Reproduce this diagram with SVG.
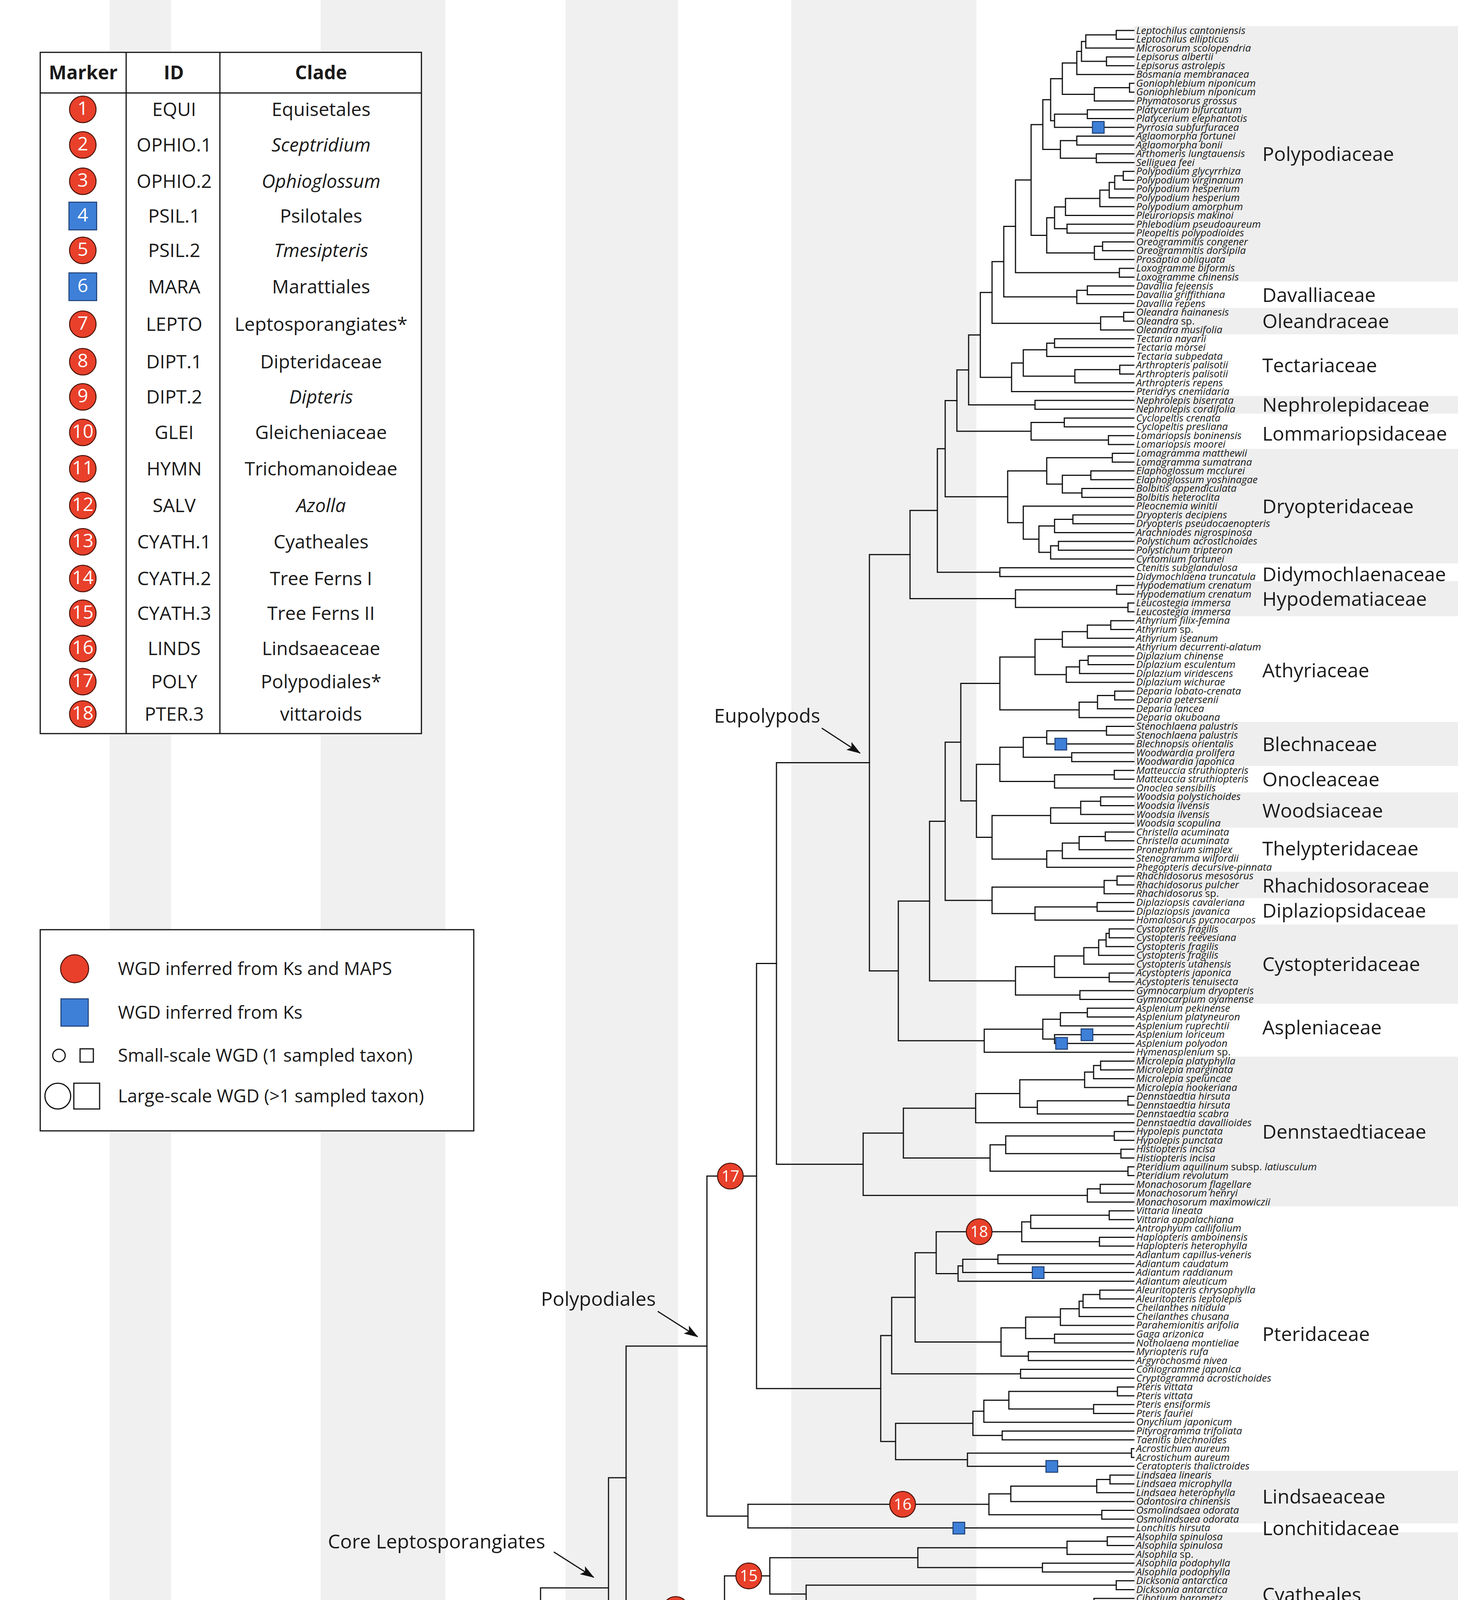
<svg xmlns="http://www.w3.org/2000/svg" width="3733" height="5780" viewBox="0 0 3733 5780">
<defs>
<marker id="ah" markerUnits="userSpaceOnUse" markerWidth="36" markerHeight="24" refX="34" refY="12" orient="auto"><path d="M0,0L36,12L0,24L8,12Z" fill="#111"/></marker>
</defs>
<style>
text{font-family:'Open Sans','Noto Sans','DejaVu Sans',sans-serif;fill:#1a1a1a}
.lf text{font-style:italic;font-size:26px}
.n{font-style:normal}
.cl text{font-size:50px}
.br{fill:none;stroke:#111;stroke-width:3;stroke-linecap:square;stroke-linejoin:miter}
.rc{fill:#E8402A;stroke:#4a1208;stroke-width:2.5}
.bs{fill:#3E7FD8;stroke:#1c3f73;stroke-width:2.5}
.mn{fill:#fff;font-size:40px;text-anchor:middle}
.tb{fill:#F0F0F0}
.cb{fill:#EEEEEE}
.tt text{font-size:48px;text-anchor:middle}
.hd{font-weight:bold}
.it{font-style:italic}
.lg text{font-size:46px}
.an{font-size:50px}
.ar{stroke:#111;stroke-width:3;marker-end:url(#ah)}
.ts text{font-size:48px;text-anchor:middle}
.tk text{font-size:38px;text-anchor:middle}
.ln{stroke:#111;stroke-width:3;fill:none}
</style>
<rect width="3733" height="5780" fill="#fff"/>
<g id="time-bands">
<rect class="tb" x="281" y="0" width="157" height="5585"/>
<rect class="tb" x="821" y="0" width="319" height="5585"/>
<rect class="tb" x="1448" y="0" width="288" height="5585"/>
<rect class="tb" x="2026" y="0" width="474" height="5585"/>
</g>
<g id="clade-bands">
<rect class="cb" x="2904" y="66.7" width="829" height="654"/>
<rect class="cb" x="2904" y="788.3" width="829" height="67.7"/>
<rect class="cb" x="2904" y="1013.8" width="829" height="45.2"/>
<rect class="cb" x="2904" y="1149" width="829" height="293.3"/>
<rect class="cb" x="2904" y="1487.4" width="829" height="90.2"/>
<rect class="cb" x="2904" y="1848" width="829" height="113"/>
<rect class="cb" x="2904" y="2028.6" width="829" height="90.2"/>
<rect class="cb" x="2904" y="2231.5" width="829" height="67.7"/>
<rect class="cb" x="2904" y="2366.8" width="829" height="203"/>
<rect class="cb" x="2904" y="2705" width="829" height="383.4"/>
<rect class="cb" x="2904" y="3765" width="829" height="135"/>
<rect class="cb" x="2904" y="3922.8" width="829" height="315.7"/>
<rect class="cb" x="2904" y="4418.9" width="829" height="157.9"/>
<rect class="cb" x="2904" y="4734.6" width="829" height="203"/>
<rect class="cb" x="2904" y="5027.7" width="829" height="112.8"/>
<rect class="cb" x="2904" y="5253.2" width="829" height="112.8"/>
</g>
<g id="connectors">
<path class="br" d="M2903 78H2858V100.6H2903M2858 89.3H2780V123.1H2903M2903 145.7H2833V168.2H2903M2780 106.2H2769V156.9H2833M2769 131.6H2757V190.8H2903M2903 213.3H2892V235.9H2903M2892 224.6H2802V258.4H2903M2757 161.2H2720V241.5H2802M2903 281H2784V303.5H2903M2784 292.2H2700V326.1H2903M2720 201.4H2690V309.1H2700M2903 348.6H2757V371.2H2903M2903 393.7H2807V416.3H2903M2757 359.9H2715V405H2807M2690 255.3H2670V382.5H2715M2903 438.8H2876V461.4H2903M2876 450.1H2854V483.9H2903M2854 467H2840V506.5H2903M2840 486.7H2816V529H2903M2816 507.9H2728V551.6H2903M2903 574.1H2732V596.7H2903M2728 529.7H2700V585.4H2732M2903 619.2H2823V641.8H2903M2823 630.5H2802V664.3H2903M2700 557.5H2680V647.4H2802M2670 318.9H2640V602.5H2680M2903 686.9H2866V709.4H2903M2640 460.7H2600V698.1H2866"/>
<path class="br" d="M2903 732H2784V754.5H2903M2784 743.2H2757V777.1H2903M2600 579.4H2570V760.1H2757M2903 799.6H2877V822.2H2903M2877 810.9H2818V844.7H2903M2570 669.8H2540V827.8H2818M2903 867.3H2700V889.8H2903M2700 878.5H2680V912.4H2903M2903 934.9H2867V957.5H2903M2867 946.2H2752V980H2903M2680 895.4H2620V963.1H2752M2620 929.3H2590V1002.6H2903M2540 748.8H2510V965.9H2590M2903 1025.1H2650V1047.7H2903M2510 857.4H2480V1036.4H2650M2903 1070.2H2725V1092.8H2903M2903 1115.3H2838V1137.9H2903M2725 1081.5H2640V1126.6H2838M2480 946.9H2450V1104H2640"/>
<path class="br" d="M2903 1160.4H2848V1183H2903M2903 1205.5H2793V1228.1H2903M2903 1250.6H2770V1273.2H2903M2793 1216.8H2720V1261.9H2770M2848 1171.7H2680V1239.3H2720M2903 1318.3H2747V1340.8H2903M2747 1329.5H2700V1363.4H2903M2903 1385.9H2710V1408.5H2903M2710 1397.2H2690V1431H2903M2700 1346.4H2660V1414.1H2690M2903 1295.7H2620V1380.3H2660M2680 1205.5H2580V1338H2620M2450 1025.5H2420V1271.8H2580M2903 1453.6H2560V1476.1H2903M2420 1148.7H2400V1464.9H2560M2903 1498.7H2859V1521.2H2903M2903 1543.8H2888V1566.3H2903M2859 1510H2600V1555H2888M2400 1306.8H2330V1532.5H2600"/>
<path class="br" d="M2903 1588.9H2844V1611.4H2903M2844 1600.2H2784V1634H2903M2784 1617.1H2720V1656.5H2903M2903 1679.1H2786V1701.6H2903M2786 1690.4H2764V1724.2H2903M2764 1707.3H2730V1746.7H2903M2720 1636.8H2650V1727H2730M2903 1769.3H2854V1791.8H2903M2854 1780.6H2810V1814.4H2903M2810 1797.5H2763V1836.9H2903M2650 1681.9H2560V1817.2H2763M2903 1859.5H2833V1882H2903M2833 1870.8H2680V1904.6H2903M2903 1927.1H2744V1949.7H2903M2680 1887.7H2620V1938.4H2744M2903 1972.2H2853V1994.8H2903M2853 1983.5H2700V2017.3H2903M2620 1913.1H2560V2000.4H2700M2903 2039.9H2818V2062.4H2903M2818 2051.2H2767V2085H2903M2767 2068.1H2690V2107.5H2903M2903 2130.1H2830V2152.6H2903M2830 2141.4H2763V2175.2H2903M2763 2158.3H2720V2197.7H2903M2720 2178H2680V2220.3H2903M2690 2087.8H2540V2199.2H2680M2560 1956.8H2500V2143.5H2540M2560 1749.6H2460V2050.2H2500M2903 2242.8H2860V2265.4H2903M2860 2254.1H2827V2287.9H2903M2903 2310.5H2809V2333H2903M2809 2321.8H2650V2355.6H2903M2827 2271H2540V2338.7H2650M2460 1899.9H2420V2304.9H2540M2903 2378.1H2840V2400.7H2903M2840 2389.4H2832V2423.2H2903M2832 2406.3H2813V2445.8H2903M2813 2426.1H2775V2468.3H2903M2903 2490.9H2840V2513.4H2903M2775 2447.2H2700V2502.2H2840M2903 2536H2765V2558.5H2903M2700 2474.7H2600V2547.3H2765M2420 2102.4H2380V2511H2600M2903 2581.1H2784V2603.6H2903M2784 2592.4H2715V2626.2H2903M2903 2648.7H2700V2671.3H2903M2715 2609.3H2670V2660H2700M2670 2634.7H2520V2693.8H2903M2380 2306.7H2300V2664.3H2520M2330 1419.7H2226V2485.5H2300"/>
<path class="br" d="M2903 2716.4H2818V2738.9H2903M2818 2727.7H2800V2761.5H2903M2800 2744.6H2777V2784H2903M2903 2806.6H2888V2829.1H2903M2888 2817.9H2656V2851.7H2903M2777 2764.3H2611V2834.8H2656M2611 2799.6H2498V2874.2H2903M2903 2896.8H2853V2919.3H2903M2903 2941.9H2870V2964.4H2903M2853 2908.1H2575V2953.2H2870M2903 2987H2888V3009.5H2903M2575 2930.7H2535V2998.3H2888M2498 2836.9H2313V2964.5H2535M2903 3032.1H2817V3054.6H2903M2817 3043.4H2784V3077.2H2903M2313 2900.7H2210V3060.3H2784M2226 1952.6H1988V2980.5H2210"/>
<path class="br" d="M2903 3099.7H2840V3122.3H2903M2840 3111H2639V3144.8H2903M2903 3167.4H2815V3189.9H2903M2639 3127.9H2616V3178.7H2815M2903 3212.5H2555V3235H2903M2555 3223.8H2465V3257.6H2903M2465 3240.7H2453V3280.1H2903M2616 3153.3H2397V3260.4H2453M2903 3302.7H2816V3325.2H2903M2816 3314H2773V3347.8H2903M2773 3330.9H2763V3370.3H2903M2763 3350.6H2715V3392.9H2903M2903 3415.4H2700V3438H2903M2715 3371.8H2626V3426.7H2700M2903 3460.5H2633V3483.1H2903M2626 3399.3H2563V3471.8H2633M2397 3206.9H2343V3435.6H2563M2903 3505.6H2613V3528.2H2903M2343 3321.3H2283V3516.9H2613M2903 3550.7H2861V3573.3H2903M2903 3595.8H2800V3618.4H2903M2861 3562H2583V3607.1H2800M2583 3584.6H2519V3640.9H2903M2903 3663.5H2566V3686H2903M2519 3612.8H2491V3674.8H2566M2903 3708.6H2897V3731.1H2903M2897 3719.9H2477V3753.7H2903M2491 3643.8H2293V3736.8H2477M2283 3419.1H2255V3690.3H2293M1988 2466.6H1937V3554.7H2255"/>
<path class="br" d="M2903 3776.2H2842V3798.8H2903M2842 3787.5H2808V3821.3H2903M2808 3804.4H2588V3843.9H2903M2903 3866.4H2821V3889H2903M2588 3824.2H2532V3877.7H2821M2532 3851H1915V3911.5H2903M1937 3010.7H1810V3881.3H1915"/>
<path class="br" d="M2903 3934.1H2835V3956.6H2903M2835 3945.4H2732V3979.2H2903M2903 4001.7H2669V4024.3H2903M2732 3962.3H2350V4013H2669M2903 4046.8H2858V4069.4H2903M2903 4091.9H2801V4114.5H2903M2858 4058.1H2064V4103.2H2801M2350 3987.7H1971V4080.7H2064M2903 4137H2721V4159.6H2903M2721 4148.3H2624V4182.1H2903M2624 4165.2H2395V4204.7H2903M2395 4185H1938V4227.2H2903M1971 4034.2H1855V4206.1H1938M1810 3446H1603V4120.2H1855"/>
<path class="br" d="M2903 4249.8H2753V4272.3H2903M2753 4261.1H2411V4294.9H2903M2903 4317.4H2880V4340H2903M2411 4278H2111V4328.7H2880M2903 4362.5H2887V4385.1H2903M2887 4373.8H2328V4407.6H2903M2111 4303.4H1938V4390.7H2328M1603 3783.1H1558V4347.1H1938M2903 4430.2H2745V4452.7H2903M2903 4475.3H2568V4497.8H2903M2745 4441.5H2204V4486.6H2568M2903 4520.4H2868V4542.9H2903M2868 4531.7H2775V4565.5H2903M2204 4464.1H1875V4548.6H2775M1558 4065.1H1384V4506.4H1875"/>
<path class="br" d="M2903 4588H2263V4610.6H2903M2903 4633.1H2367V4655.7H2903M2263 4599.3H2218V4644.4H2367M2903 4678.2H2669V4700.8H2903M2669 4689.5H2487V4723.3H2903M2218 4621.9H2058V4706.4H2487M2903 4745.9H2600V4768.4H2903M2903 4791H2883V4813.5H2903M2600 4757.2H2355V4802.3H2883M2355 4779.8H2272V4836.1H2903M2058 4664.2H1306V4808H2272M2903 4858.6H2823V4881.2H2903M2903 4903.7H2502V4926.3H2903M2823 4869.9H2364V4915H2502M1306 4736.1H1286V4892.5H2364M1384 4285.8H1257V4814.3H1286M2903 4948.8H2843V4971.4H2903M2903 4993.9H2851V5016.5H2903M2843 4960.1H2592V5005.2H2851M1257 4550.1H1127V4982.7H2592"/>
<path class="br" d="M2903 5039H2857V5061.6H2903M2857 5050.3H2572V5084.1H2903M2572 5067.2H2510V5106.7H2903M2510 5087H2415V5129.2H2903M1127 4766.4H992V5108.1H2415M2903 5151.8H2837V5174.3H2903M2837 5163.1H2802V5196.9H2903M2903 5219.4H2767V5242H2903M2802 5180H2466V5230.7H2767M2903 5264.5H2851V5287.1H2903M2851 5275.8H2392V5309.6H2903M2903 5332.2H2803V5354.7H2903M2392 5292.7H1817V5343.5H2803M2466 5205.4H1336V5318.1H1817M992 4937.3H945V5261.8H1336M2903 5377.3H2827V5399.8H2903M2903 5422.4H2847V5444.9H2903M2827 5388.6H2675V5433.7H2847M945 5099.6H860V5411.2H2675M2903 5467.5H1791V5490H2903M1791 5478.8H1328V5512.6H2903M860 5255.4H698V5495.7H1328M698 5375.6H499V5535.1H2903M499 5455.4H38V5557.7H2903M9 5506.6H38"/>
</g>
<g id="annotations">
<text class="an" x="2100" y="1850" text-anchor="end">Eupolypods</text>
<line class="ar" x1="2104" y1="1864" x2="2202" y2="1928"/>
<text class="an" x="1679" y="3343" text-anchor="end">Polypodiales</text>
<line class="ar" x1="1684" y1="3357" x2="1786" y2="3422"/>
<text class="an" x="1396" y="3964" text-anchor="end">Core Leptosporangiates</text>
<line class="ar" x1="1418" y1="3973" x2="1520" y2="4038"/>
<text class="an" x="1003" y="4652" text-anchor="end">Leptosporangiates</text>
<line class="ar" x1="1020" y1="4655" x2="1109" y2="4736"/>
</g>
<g id="small-wgd">
<rect class="bs" x="2797" y="311" width="30" height="30"/>
<rect class="bs" x="2701" y="1890" width="30" height="30"/>
<rect class="bs" x="2768" y="2634" width="30" height="30"/>
<rect class="bs" x="2703" y="2656" width="30" height="30"/>
<rect class="bs" x="2643" y="3243" width="30" height="30"/>
<rect class="bs" x="2678" y="3739" width="30" height="30"/>
<rect class="bs" x="2440" y="3897" width="30" height="30"/>
<rect class="bs" x="2717" y="4483" width="30" height="30"/>
<rect class="bs" x="2535" y="5295" width="30" height="30"/>
</g>
<g id="wgd-markers">
<g id="m1"><circle class="rc" cx="1869" cy="5411.2" r="33"/><text class="mn" x="1869" y="5425">1</text></g>
<g id="m2"><circle class="rc" cx="2311" cy="5343.5" r="33"/><text class="mn" x="2311" y="5357">2</text></g>
<g id="m3"><circle class="rc" cx="2633" cy="5275.8" r="33"/><text class="mn" x="2633" y="5290">3</text></g>
<g id="m4"><rect class="bs" x="1914.5" y="5169.9" width="71" height="71"/><text class="mn" x="1950" y="5219">4</text></g>
<g id="m5"><circle class="rc" cx="2722" cy="5230.7" r="33"/><text class="mn" x="2722" y="5245">5</text></g>
<g id="m6"><rect class="bs" x="1804.5" y="5072.6" width="71" height="71"/><text class="mn" x="1840" y="5122">6</text></g>
<g id="m7"><circle class="rc" cx="1194" cy="4550.1" r="33"/><text class="mn" x="1194" y="4564">7</text></g>
<g id="m8"><circle class="rc" cx="1760" cy="4892.5" r="33"/><text class="mn" x="1760" y="4907">8</text></g>
<g id="m9"><circle class="rc" cx="2437" cy="4915" r="33"/><text class="mn" x="2437" y="4929">9</text></g>
<g id="m10"><circle class="rc" cx="1963" cy="4808" r="33"/><text class="mn" x="1963" y="4822">10</text></g>
<g id="m11"><circle class="rc" cx="2140" cy="4621.9" r="33"/><text class="mn" x="2140" y="4636">11</text></g>
<g id="m12"><circle class="rc" cx="2274" cy="4278" r="33"/><text class="mn" x="2274" y="4292">12</text></g>
<g id="m13"><circle class="rc" cx="1730" cy="4120.2" r="33"/><text class="mn" x="1730" y="4134">13</text></g>
<g id="m14"><circle class="rc" cx="2179" cy="4185" r="33"/><text class="mn" x="2179" y="4199">14</text></g>
<g id="m15"><circle class="rc" cx="1917" cy="4034.2" r="33"/><text class="mn" x="1917" y="4048">15</text></g>
<g id="m16"><circle class="rc" cx="2311" cy="3851" r="33"/><text class="mn" x="2311" y="3865">16</text></g>
<g id="m17"><circle class="rc" cx="1870" cy="3010.7" r="33"/><text class="mn" x="1870" y="3025">17</text></g>
<g id="m18"><circle class="rc" cx="2507" cy="3153.3" r="33"/><text class="mn" x="2507" y="3167">18</text></g>
</g>
<g id="leaves" class="lf" transform="translate(2909 8.6)">
<text y="78">Leptochilus cantoniensis</text>
<text y="100.6">Leptochilus ellipticus</text>
<text y="123.1">Microsorum scolopendria</text>
<text y="145.7">Lepisorus albertii</text>
<text y="168.2">Lepisorus astrolepis</text>
<text y="190.8">Bosmania membranacea</text>
<text y="213.3">Goniophlebium niponicum</text>
<text y="235.9">Goniophlebium niponicum</text>
<text y="258.4">Phymatosorus grossus</text>
<text y="281">Platycerium bifurcatum</text>
<text y="303.5">Platycerium elephantotis</text>
<text y="326.1">Pyrrosia subfurfuracea</text>
<text y="348.6">Aglaomorpha fortunei</text>
<text y="371.2">Aglaomorpha bonii</text>
<text y="393.7">Arthomeris lungtauensis</text>
<text y="416.3">Selliguea feei</text>
<text y="438.8">Polypodium glycyrrhiza</text>
<text y="461.4">Polypodium virginanum</text>
<text y="483.9">Polypodium hesperium</text>
<text y="506.5">Polypodium hesperium</text>
<text y="529">Polypodium amorphum</text>
<text y="551.6">Pleuroriopsis makinoi</text>
<text y="574.1">Phlebodium pseudoaureum</text>
<text y="596.7">Pleopeltis polypodioides</text>
<text y="619.2">Oreogrammitis congener</text>
<text y="641.8">Oreogrammitis dorsipila</text>
<text y="664.3">Prosaptia obliquata</text>
<text y="686.9">Loxogramme biformis</text>
<text y="709.4">Loxogramme chinensis</text>
<text y="732">Davallia fejeensis</text>
<text y="754.5">Davallia griffithiana</text>
<text y="777.1">Davallia repens</text>
<text y="799.6">Oleandra hainanesis</text>
<text y="822.2">Oleandra <tspan class="n">sp.</tspan></text>
<text y="844.7">Oleandra musifolia</text>
<text y="867.3">Tectaria nayarii</text>
<text y="889.8">Tectaria morsei</text>
<text y="912.4">Tectaria subpedata</text>
<text y="934.9">Arthropteris palisotii</text>
<text y="957.5">Arthropteris palisotii</text>
<text y="980">Arthropteris repens</text>
<text y="1002.6">Pteridrys cnemidaria</text>
<text y="1025.1">Nephrolepis biserrata</text>
<text y="1047.7">Nephrolepis cordifolia</text>
<text y="1070.2">Cyclopeltis crenata</text>
<text y="1092.8">Cyclopeltis presliana</text>
<text y="1115.3">Lomariopsis boninensis</text>
<text y="1137.9">Lomariopsis moorei</text>
<text y="1160.4">Lomagramma matthewii</text>
<text y="1183">Lomagramma sumatrana</text>
<text y="1205.5">Elaphoglossum mcclurei</text>
<text y="1228.1">Elaphoglossum yoshinagae</text>
<text y="1250.6">Bolbitis appendiculata</text>
<text y="1273.2">Bolbitis heteroclita</text>
<text y="1295.7">Pleocnemia winitii</text>
<text y="1318.3">Dryopteris decipiens</text>
<text y="1340.8">Dryopteris pseudocaenopteris</text>
<text y="1363.4">Arachniodes nigrospinosa</text>
<text y="1385.9">Polystichum acrostichoides</text>
<text y="1408.5">Polystichum tripteron</text>
<text y="1431">Cyrtomium fortunei</text>
<text y="1453.6">Ctenitis subglandulosa</text>
<text y="1476.1">Didymochlaena truncatula</text>
<text y="1498.7">Hypodematium crenatum</text>
<text y="1521.2">Hypodematium crenatum</text>
<text y="1543.8">Leucostegia immersa</text>
<text y="1566.3">Leucostegia immersa</text>
<text y="1588.9">Athyrium filix-femina</text>
<text y="1611.4">Athyrium <tspan class="n">sp.</tspan></text>
<text y="1634">Athyrium iseanum</text>
<text y="1656.5">Athyrium decurrenti-alatum</text>
<text y="1679.1">Diplazium chinense</text>
<text y="1701.6">Diplazium esculentum</text>
<text y="1724.2">Diplazium viridescens</text>
<text y="1746.7">Diplazium wichurae</text>
<text y="1769.3">Deparia lobato-crenata</text>
<text y="1791.8">Deparia petersenii</text>
<text y="1814.4">Deparia lancea</text>
<text y="1836.9">Deparia okuboana</text>
<text y="1859.5">Stenochlaena palustris</text>
<text y="1882">Stenochlaena palustris</text>
<text y="1904.6">Blechnopsis orientalis</text>
<text y="1927.1">Woodwardia prolifera</text>
<text y="1949.7">Woodwardia japonica</text>
<text y="1972.2">Matteuccia struthiopteris</text>
<text y="1994.8">Matteuccia struthiopteris</text>
<text y="2017.3">Onoclea sensibilis</text>
<text y="2039.9">Woodsia polystichoides</text>
<text y="2062.4">Woodsia ilvensis</text>
<text y="2085">Woodsia ilvensis</text>
<text y="2107.5">Woodsia scopulina</text>
<text y="2130.1">Christella acuminata</text>
<text y="2152.6">Christella acuminata</text>
<text y="2175.2">Pronephrium simplex</text>
<text y="2197.7">Stenogramma wilfordii</text>
<text y="2220.3">Phegopteris decursive-pinnata</text>
<text y="2242.8">Rhachidosorus mesosorus</text>
<text y="2265.4">Rhachidosorus pulcher</text>
<text y="2287.9">Rhachidosorus <tspan class="n">sp.</tspan></text>
<text y="2310.5">Diplaziopsis cavaleriana</text>
<text y="2333">Diplaziopsis javanica</text>
<text y="2355.6">Homalosorus pycnocarpos</text>
<text y="2378.1">Cystopteris fragilis</text>
<text y="2400.7">Cystopteris reevesiana</text>
<text y="2423.2">Cystopteris fragilis</text>
<text y="2445.8">Cystopteris fragilis</text>
<text y="2468.3">Cystopteris utahensis</text>
<text y="2490.9">Acystopteris japonica</text>
<text y="2513.4">Acystopteris tenuisecta</text>
<text y="2536">Gymnocarpium dryopteris</text>
<text y="2558.5">Gymnocarpium oyamense</text>
<text y="2581.1">Asplenium pekinense</text>
<text y="2603.6">Asplenium platyneuron</text>
<text y="2626.2">Asplenium ruprechtii</text>
<text y="2648.7">Asplenium loriceum</text>
<text y="2671.3">Asplenium polyodon</text>
<text y="2693.8">Hymenasplenium <tspan class="n">sp.</tspan></text>
<text y="2716.4">Microlepia platyphylla</text>
<text y="2738.9">Microlepia marginata</text>
<text y="2761.5">Microlepia speluncae</text>
<text y="2784">Microlepia hookeriana</text>
<text y="2806.6">Dennstaedtia hirsuta</text>
<text y="2829.1">Dennstaedtia hirsuta</text>
<text y="2851.7">Dennstaedtia scabra</text>
<text y="2874.2">Dennstaedtia davallioides</text>
<text y="2896.8">Hypolepis punctata</text>
<text y="2919.3">Hypolepis punctata</text>
<text y="2941.9">Histiopteris incisa</text>
<text y="2964.4">Histiopteris incisa</text>
<text y="2987">Pteridium aquilinum <tspan class="n">subsp.</tspan> latiusculum</text>
<text y="3009.5">Pteridium revolutum</text>
<text y="3032.1">Monachosorum flagellare</text>
<text y="3054.6">Monachosorum henryi</text>
<text y="3077.2">Monachosorum maximowiczii</text>
<text y="3099.7">Vittaria lineata</text>
<text y="3122.3">Vittaria appalachiana</text>
<text y="3144.8">Antrophyum callifolium</text>
<text y="3167.4">Haplopteris amboinensis</text>
<text y="3189.9">Haplopteris heterophylla</text>
<text y="3212.5">Adiantum capillus-veneris</text>
<text y="3235">Adiantum caudatum</text>
<text y="3257.6">Adiantum raddianum</text>
<text y="3280.1">Adiantum aleuticum</text>
<text y="3302.7">Aleuritopteris chrysophylla</text>
<text y="3325.2">Aleuritopteris leptolepis</text>
<text y="3347.8">Cheilanthes nitidula</text>
<text y="3370.3">Cheilanthes chusana</text>
<text y="3392.9">Parahemionitis arifolia</text>
<text y="3415.4">Gaga arizonica</text>
<text y="3438">Notholaena montieliae</text>
<text y="3460.5">Myriopteris rufa</text>
<text y="3483.1">Argyrochosma nivea</text>
<text y="3505.6">Coniogramme japonica</text>
<text y="3528.2">Cryptogramma acrostichoides</text>
<text y="3550.7">Pteris vittata</text>
<text y="3573.3">Pteris vittata</text>
<text y="3595.8">Pteris ensiformis</text>
<text y="3618.4">Pteris fauriei</text>
<text y="3640.9">Onychium japonicum</text>
<text y="3663.5">Pityrogramma trifoliata</text>
<text y="3686">Taenitis blechnoides</text>
<text y="3708.6">Acrostichum aureum</text>
<text y="3731.1">Acrostichum aureum</text>
<text y="3753.7">Ceratopteris thalictroides</text>
<text y="3776.2">Lindsaea linearis</text>
<text y="3798.8">Lindsaea microphylla</text>
<text y="3821.3">Lindsaea heterophylla</text>
<text y="3843.9">Odontosira chinensis</text>
<text y="3866.4">Osmolindsaea odorata</text>
<text y="3889">Osmolindsaea odorata</text>
<text y="3911.5">Lonchitis hirsuta</text>
<text y="3934.1">Alsophila spinulosa</text>
<text y="3956.6">Alsophila spinulosa</text>
<text y="3979.2">Alsophila <tspan class="n">sp.</tspan></text>
<text y="4001.7">Alsophila podophylla</text>
<text y="4024.3">Alsophila podophylla</text>
<text y="4046.8">Dicksonia antarctica</text>
<text y="4069.4">Dicksonia antarctica</text>
<text y="4091.9">Cibotium barometz</text>
<text y="4114.5">Cibotium barometz</text>
<text y="4137">Plagiogyria stenoptera</text>
<text y="4159.6">Plagiogyria subadnata</text>
<text y="4182.1">Plagiogyria japonica</text>
<text y="4204.7">Culcita macrocarpa</text>
<text y="4227.2">Thyrsopteris elegans</text>
<text y="4249.8">Azolla pinnata</text>
<text y="4272.3">Azolla pinnata</text>
<text y="4294.9">Azolla caroliniana</text>
<text y="4317.4">Salvinia natans</text>
<text y="4340">Salvinia natans</text>
<text y="4362.5">Marsilea quadrifolia</text>
<text y="4385.1">Marsilea quadrifolia</text>
<text y="4407.6">Pilularia globulifera</text>
<text y="4430.2">Anemia phyllitidis</text>
<text y="4452.7">Anemia tomentosa</text>
<text y="4475.3">Actinostachys digitata</text>
<text y="4497.8">Schizaea dichotoma</text>
<text y="4520.4">Lygodium japonicum</text>
<text y="4542.9">Lygodium japonicum</text>
<text y="4565.5">Lygodium flexuosum</text>
<text y="4588">Callistopteris apiifolia</text>
<text y="4610.6">Cephalomanes javanicum</text>
<text y="4633.1">Crepidomanes minutum</text>
<text y="4655.7">Vandenboschia striata</text>
<text y="4678.2">Hymenophyllum holochium</text>
<text y="4700.8">Hymenophyllum <tspan class="n">sp.</tspan></text>
<text y="4723.3">Hymenophyllum badium</text>
<text y="4745.9">Diplopterygium laevissimum</text>
<text y="4768.4">Diplopterygium glaucum</text>
<text y="4791">Dicranopteris pedata</text>
<text y="4813.5">Dicranopteris pedata</text>
<text y="4836.1">Sticherus truncatus</text>
<text y="4858.6">Cheiropleuria bicuspis</text>
<text y="4881.2">Cheiropleuria integrifolia</text>
<text y="4903.7">Dipteris conjugata</text>
<text y="4926.3">Dipteris lobbiana</text>
<text y="4948.8">Osmunda <tspan class="n">sp.</tspan></text>
<text y="4971.4">Osmunda japonica</text>
<text y="4993.9">Plenasium javanicum</text>
<text y="5016.5">Plenasium banksiifolium</text>
<text y="5039">Angiopteris fokiensis</text>
<text y="5061.6">Angiopteris fokiensis</text>
<text y="5084.1">Christensenia aesculifolia</text>
<text y="5106.7">Ptisana pellucida</text>
<text y="5129.2">Danaea nodosa</text>
<text y="5151.8">Psilotum nudum</text>
<text y="5174.3">Psilotum nudum</text>
<text y="5196.9">Psilotum nudum</text>
<text y="5219.4">Tmesipteris tannensis</text>
<text y="5242">Tmesipteris parva</text>
<text y="5264.5">Ophioglossum vulgatum</text>
<text y="5287.1">Ophioglossum thermale</text>
<text y="5309.6">Ophioderma pendula</text>
<text y="5332.2">Sceptridium japonicum</text>
<text y="5354.7">Sceptridium dissectum</text>
<text y="5377.3">Equisetum hyemale</text>
<text y="5399.8">Equisetum arvense</text>
<text y="5422.4">Equisetum diffusum</text>
<text y="5444.9">Equisetum diffusum</text>
<text y="5467.5">Arabidopsis thaliana</text>
<text y="5490">Amborella trichopoda</text>
<text y="5512.6">Ginkgo biloba</text>
<text y="5535.1">Selaginella moellendorffii</text>
<text y="5557.7">Physcomitrella patens</text>
</g>
<g id="clades" class="cl" transform="translate(3232 18)">
<text y="393.7">Polypodiaceae</text>
<text y="754.5">Davalliaceae</text>
<text y="822.2">Oleandraceae</text>
<text y="934.9">Tectariaceae</text>
<text y="1036.4">Nephrolepidaceae</text>
<text y="1110">Lommariopsidaceae</text>
<text y="1295.7">Dryopteridaceae</text>
<text y="1470">Didymochlaenaceae</text>
<text y="1532.5">Hypodematiaceae</text>
<text y="1716">Athyriaceae</text>
<text y="1905">Blechnaceae</text>
<text y="1995">Onocleaceae</text>
<text y="2075">Woodsiaceae</text>
<text y="2172">Thelypteridaceae</text>
<text y="2267">Rhachidosoraceae</text>
<text y="2331">Diplaziopsidaceae</text>
<text y="2468">Cystopteridaceae</text>
<text y="2630">Aspleniaceae</text>
<text y="2897">Dennstaedtiaceae</text>
<text y="3415">Pteridaceae</text>
<text y="3831">Lindsaeaceae</text>
<text y="3911.5">Lonchitidaceae</text>
<text y="4082">Cyatheales</text>
<text y="4328.7">Salviniales</text>
<text y="4498">Schizaeales</text>
<text y="4650">Hymenophyllales</text>
<text y="4835">Gleicheniales</text>
<text y="4980">Osmundales</text>
<text y="5088">Marattiales</text>
<text y="5198">Psilotales</text>
<text y="5308">Ophioglossales</text>
<text y="5405">Equisetales</text>
</g>
<g id="legend-table" class="tt">
<rect x="103" y="134" width="976" height="1744" fill="#fff" stroke="#111" stroke-width="3"/>
<path class="ln" d="M103 238H1079M323 134V1878M563 134V1878" stroke-width="2.5"/>
<text class="hd" x="213" y="203">Marker</text>
<text class="hd" x="445" y="203">ID</text>
<text class="hd" x="822" y="203">Clade</text>
<g id="row1"><circle class="rc" cx="212" cy="280" r="34"/><text class="mn" x="212" y="294">1</text><text x="446" y="297">EQUI</text><text x="822" y="297">Equisetales</text></g>
<g id="row2"><circle class="rc" cx="212" cy="371" r="34"/><text class="mn" x="212" y="385">2</text><text x="446" y="388">OPHIO.1</text><text class="it" x="822" y="388">Sceptridium</text></g>
<g id="row3"><circle class="rc" cx="212" cy="464" r="34"/><text class="mn" x="212" y="478">3</text><text x="446" y="481">OPHIO.2</text><text class="it" x="822" y="481">Ophioglossum</text></g>
<g id="row4"><rect class="bs" x="176.5" y="517.5" width="71" height="71"/><text class="mn" x="212" y="567">4</text><text x="446" y="570">PSIL.1</text><text x="822" y="570">Psilotales</text></g>
<g id="row5"><circle class="rc" cx="212" cy="641" r="34"/><text class="mn" x="212" y="655">5</text><text x="446" y="658">PSIL.2</text><text class="it" x="822" y="658">Tmesipteris</text></g>
<g id="row6"><rect class="bs" x="176.5" y="698.5" width="71" height="71"/><text class="mn" x="212" y="748">6</text><text x="446" y="751">MARA</text><text x="822" y="751">Marattiales</text></g>
<g id="row7"><circle class="rc" cx="212" cy="830" r="34"/><text class="mn" x="212" y="844">7</text><text x="446" y="847">LEPTO</text><text x="822" y="847">Leptosporangiates*</text></g>
<g id="row8"><circle class="rc" cx="212" cy="926" r="34"/><text class="mn" x="212" y="940">8</text><text x="446" y="943">DIPT.1</text><text x="822" y="943">Dipteridaceae</text></g>
<g id="row9"><circle class="rc" cx="212" cy="1016" r="34"/><text class="mn" x="212" y="1030">9</text><text x="446" y="1033">DIPT.2</text><text class="it" x="822" y="1033">Dipteris</text></g>
<g id="row10"><circle class="rc" cx="212" cy="1107" r="34"/><text class="mn" x="212" y="1121">10</text><text x="446" y="1124">GLEI</text><text x="822" y="1124">Gleicheniaceae</text></g>
<g id="row11"><circle class="rc" cx="212" cy="1200" r="34"/><text class="mn" x="212" y="1214">11</text><text x="446" y="1217">HYMN</text><text x="822" y="1217">Trichomanoideae</text></g>
<g id="row12"><circle class="rc" cx="212" cy="1294" r="34"/><text class="mn" x="212" y="1308">12</text><text x="446" y="1311">SALV</text><text class="it" x="822" y="1311">Azolla</text></g>
<g id="row13"><circle class="rc" cx="212" cy="1387" r="34"/><text class="mn" x="212" y="1401">13</text><text x="446" y="1404">CYATH.1</text><text x="822" y="1404">Cyatheales</text></g>
<g id="row14"><circle class="rc" cx="212" cy="1481" r="34"/><text class="mn" x="212" y="1495">14</text><text x="446" y="1498">CYATH.2</text><text x="822" y="1498">Tree Ferns I</text></g>
<g id="row15"><circle class="rc" cx="212" cy="1570" r="34"/><text class="mn" x="212" y="1584">15</text><text x="446" y="1587">CYATH.3</text><text x="822" y="1587">Tree Ferns II</text></g>
<g id="row16"><circle class="rc" cx="212" cy="1660" r="34"/><text class="mn" x="212" y="1674">16</text><text x="446" y="1677">LINDS</text><text x="822" y="1677">Lindsaeaceae</text></g>
<g id="row17"><circle class="rc" cx="212" cy="1745" r="34"/><text class="mn" x="212" y="1759">17</text><text x="446" y="1762">POLY</text><text x="822" y="1762">Polypodiales*</text></g>
<g id="row18"><circle class="rc" cx="212" cy="1828" r="34"/><text class="mn" x="212" y="1842">18</text><text x="446" y="1845">PTER.3</text><text x="822" y="1845">vittaroids</text></g>
</g>
<g id="legend-wgd" class="lg">
<rect x="103" y="2380" width="1110" height="515" fill="#fff" stroke="#111" stroke-width="3"/>
<circle class="rc" cx="191" cy="2480" r="36"/>
<text x="302" y="2496">WGD inferred from Ks and MAPS</text>
<rect class="bs" x="156" y="2557" width="70" height="70"/>
<text x="302" y="2608">WGD inferred from Ks</text>
<circle cx="151" cy="2702" r="16" fill="#fff" stroke="#111" stroke-width="3"/>
<rect x="205" y="2685" width="34" height="34" fill="#fff" stroke="#111" stroke-width="3"/>
<text x="302" y="2718">Small-scale WGD (1 sampled taxon)</text>
<circle cx="148" cy="2806" r="33" fill="#fff" stroke="#111" stroke-width="3"/>
<rect x="189" y="2773" width="66" height="66" fill="#fff" stroke="#111" stroke-width="3"/>
<text x="302" y="2822">Large-scale WGD (&gt;1 sampled taxon)</text>
</g>
<g id="timescale">
<rect x="9" y="5589" width="1439" height="111" fill="#9DC3A6"/>
<rect x="1448" y="5589" width="1052" height="111" fill="#4EC5E0"/>
<rect x="2500" y="5589" width="422" height="111" fill="#F8EC00"/>
<path class="ln" d="M9 5589H2922V5700H9ZM9 5645H2500M281 5589V5645M438 5589V5645M821 5589V5645M1140 5589V5645M1448 5589V5700M1736 5589V5645M2026 5589V5645M2500 5589V5700"/>
<g class="ts">
<text x="145" y="5634">Ordovician</text>
<text x="360" y="5634">Silu.</text>
<text x="630" y="5634">Devonian</text>
<text x="980" y="5634">Carbo.</text>
<text x="1294" y="5634">Permian</text>
<text x="1592" y="5634">Triassic</text>
<text x="1881" y="5634">Jurassic</text>
<text x="2263" y="5634">Cretaceous</text>
<text x="728" y="5689">Paleozoic</text>
<text x="1974" y="5689">Mesozoic</text>
<text x="2711" y="5662">Cenozoic</text>
</g>
<path class="ln" d="M252 5700V5722M549 5700V5722M845 5700V5722M1142 5700V5722M1439 5700V5722M1735 5700V5722M2032 5700V5722M2329 5700V5722M2625 5700V5722M2922 5700V5722"/>
<g class="tk">
<text x="252" y="5768">450</text>
<text x="549" y="5768">400</text>
<text x="845" y="5768">350</text>
<text x="1142" y="5768">300</text>
<text x="1439" y="5768">250</text>
<text x="1735" y="5768">200</text>
<text x="2032" y="5768">150</text>
<text x="2329" y="5768">100</text>
<text x="2625" y="5768">50</text>
<text x="2922" y="5768">0</text>
</g>
<text x="2962" y="5768" font-size="44">Million years before present (Ma)</text>
</g>
</svg>
